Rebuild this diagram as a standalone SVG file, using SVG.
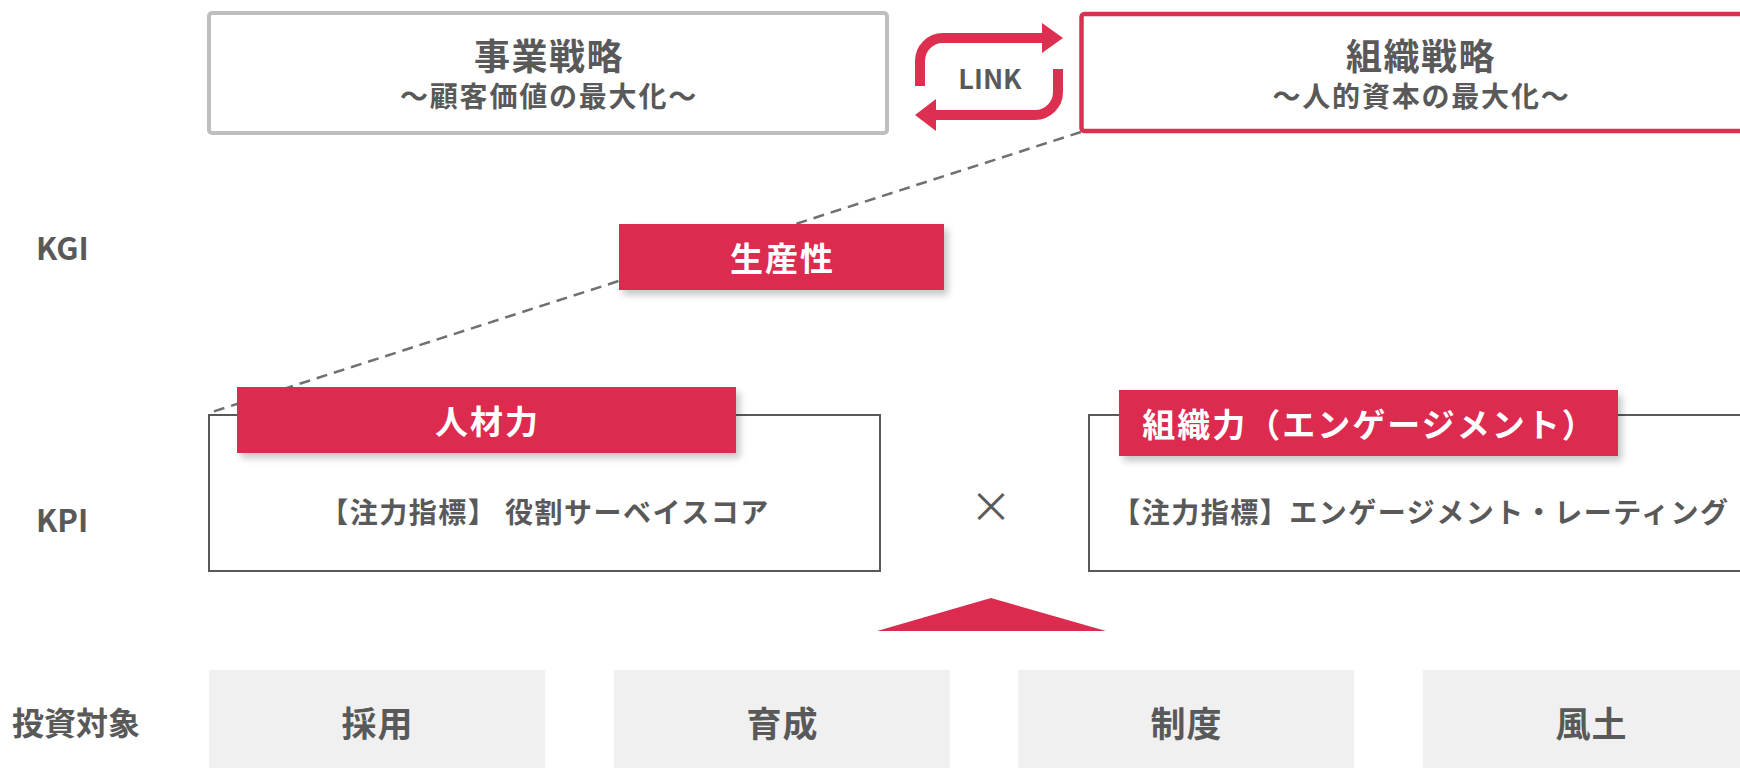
<svg xmlns="http://www.w3.org/2000/svg" width="1740" height="768" viewBox="0 0 1740 768">
<style>
text{font-family:"Noto Sans CJK JP","Noto Sans CJK SC",sans-serif;font-weight:700;fill:#595959;dominant-baseline:central;}
.c{text-anchor:middle;}
.title{font-size:36px;letter-spacing:1.5px;}
.sub{font-size:28px;letter-spacing:1.8px;}
.lab{font-size:31px;}
.red{fill:#dd2a4f;}
.rt{fill:#ffffff;font-size:33px;letter-spacing:2px;}
.kpi{font-size:28px;letter-spacing:1.5px;}
.gray{fill:#f0f0f0;}
.gt{font-size:35px;letter-spacing:1px;}
.frame{fill:#ffffff;stroke:#595959;stroke-width:2;}
.arrow{fill:none;stroke:#dd2f4f;stroke-width:10;}
.ah{fill:#dd2f4f;}
</style>
<defs>
<filter id="sh" x="-10%" y="-30%" width="125%" height="170%">
<feDropShadow dx="4" dy="5" stdDeviation="3.5" flood-color="#000000" flood-opacity="0.22"/>
</filter>
</defs>
<rect width="1740" height="768" fill="#ffffff"/>

<g id="connectors">
<line x1="1081" y1="132" x2="209" y2="413" stroke="#707070" stroke-width="2.5" stroke-dasharray="11 7"/>
<path class="arrow" d="M920 86 V61 A23 23 0 0 1 943 38 H1044"/>
<polygon class="ah" points="1042,23 1063,38 1042,53"/>
<path class="arrow" d="M1058 69 V92 A23 23 0 0 1 1035 115 H934"/>
<polygon class="ah" points="936,99 915,115 936,131"/>
<text class="c" x="990" y="77" style="font-size:27px;">LINK</text>
<polygon class="red" points="991,598 1106,631 877,631"/>
</g>

<g id="business">
<rect x="209" y="13" width="678" height="120" rx="3" fill="#ffffff" stroke="#bfbfbf" stroke-width="4"/>
<text class="c title" x="549" y="54">事業戦略</text>
<text class="c sub" x="549" y="95">～顧客価値の最大化～</text>
</g>

<g id="organization">
<rect x="1081.5" y="14" width="678" height="117" rx="3" fill="#ffffff" stroke="#dd2f4f" stroke-width="4.5"/>
<text class="c title" x="1421" y="54">組織戦略</text>
<text class="c sub" x="1421.5" y="95">～人的資本の最大化～</text>
</g>

<g id="labels">
<text class="lab" x="36" y="246">KGI</text>
<text class="lab" x="36" y="518">KPI</text>
<text class="c" x="76" y="721" style="font-size:32px;">投資対象</text>
</g>

<g id="productivity">
<rect class="red" x="619" y="224" width="325" height="66" filter="url(#sh)"/>
<text class="c rt" x="782.5" y="257">生産性</text>
</g>

<g id="human">
<rect class="frame" x="209" y="415" width="671" height="156"/>
<rect class="red" x="237" y="387" width="499" height="66" filter="url(#sh)"/>
<text class="c rt" x="487.5" y="420">人材力</text>
<text class="c kpi" x="545" y="511">【注力指標】 役割サーベイスコア</text>
</g>

<text id="times" class="c" x="991" y="503" style="font-size:42px;font-weight:400;">×</text>

<g id="orgpower">
<rect class="frame" x="1089" y="415" width="680" height="156"/>
<rect class="red" x="1119" y="390" width="499" height="66" filter="url(#sh)"/>
<text class="c rt" x="1369.5" y="423">組織力（エンゲージメント）</text>
<text class="c kpi" x="1421" y="511">【注力指標】エンゲージメント・レーティング</text>
</g>

<g id="inv1"><rect class="gray" x="209" y="670" width="336" height="98"/><text class="c gt" x="377.5" y="721">採用</text></g>
<g id="inv2"><rect class="gray" x="614" y="670" width="336" height="98"/><text class="c gt" x="782.5" y="721">育成</text></g>
<g id="inv3"><rect class="gray" x="1018" y="670" width="336" height="98"/><text class="c gt" x="1186.5" y="721">制度</text></g>
<g id="inv4"><rect class="gray" x="1423" y="670" width="336" height="98"/><text class="c gt" x="1591.5" y="721">風土</text></g>
</svg>
